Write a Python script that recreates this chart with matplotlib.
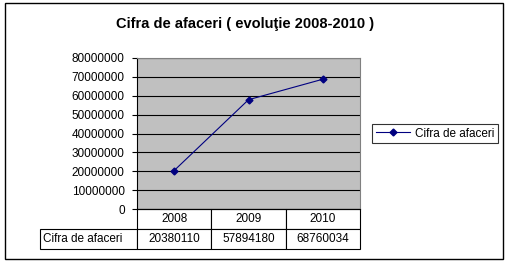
import matplotlib.pyplot as plt
from matplotlib.patches import Rectangle
from matplotlib.ticker import MultipleLocator, FuncFormatter

plt.rcParams['font.family'] = ['Liberation Sans', 'DejaVu Sans']

years = ['2008', '2009', '2010']
values = [20380110, 57894180, 68760034]
series_name = 'Cifra de afaceri'
title = 'Cifra de afaceri ( evoluţie 2008-2010 )'

W, H = 509, 280
fig = plt.figure(figsize=(W / 100, H / 100), dpi=100)

# plot area in pixels: x 137..360, y 58..209
ax = fig.add_axes([137 / W, 1 - 209 / H, 223 / W, 151 / H])
ax.set_facecolor('#c0c0c0')
ax.plot(range(len(years)), values, color='#000080', lw=0.8,
        marker='D', markersize=3.5, label=series_name, zorder=3)
ax.set_xlim(-0.5, len(years) - 0.5)
ax.set_ylim(0, 80000000)
ax.yaxis.set_major_locator(MultipleLocator(10000000))
ax.yaxis.set_major_formatter(FuncFormatter(lambda v, p: '%d' % v))
ax.set_xticks([])
ax.grid(axis='y', color='black', lw=0.8)
ax.set_axisbelow(True)
ax.tick_params(axis='y', labelsize=8.5, length=3.8, width=0.8, pad=5)
for s in ['top', 'right']:
    ax.spines[s].set_color('#808080')
ax.spines['left'].set_linewidth(0.8)
ax.spines['bottom'].set_linewidth(0.8)

# data table under the axis (bbox covers the data columns only)
tbl = ax.table(cellText=[[str(v) for v in values]], rowLabels=[series_name],
               colLabels=years, cellLoc='center', rowLoc='left',
               colWidths=[1 / 3] * 3, bbox=[0, -40 / 151, 1, 40 / 151])
tbl._autoColumns = []  # keep fixed width for the row label column
tbl.auto_set_font_size(False)
tbl.set_fontsize(8.5)
for (r, c), cell in tbl.get_celld().items():
    if c == -1:
        cell.set_width(97 / 223)
    cell.set_linewidth(0.8)
    cell.PAD = 0.03

fig.suptitle(title, x=245 / W, y=1 - 24 / H, fontsize=10.5, fontweight='bold',
             va='center')

leg = fig.legend(loc='center', bbox_to_anchor=(435 / W, 1 - 133.5 / H),
                 fontsize=8.5, frameon=True, fancybox=False, edgecolor='black',
                 borderpad=0.3, handlelength=2.9, handletextpad=0.4,
                 borderaxespad=0)
leg.get_frame().set_linewidth(0.8)

fig.patches.append(Rectangle((5 / W, 1 - 259 / H), 498 / W, 256 / H,
                             transform=fig.transFigure, fill=False,
                             edgecolor='black', lw=1))

fig.savefig('out.png', dpi=100)
